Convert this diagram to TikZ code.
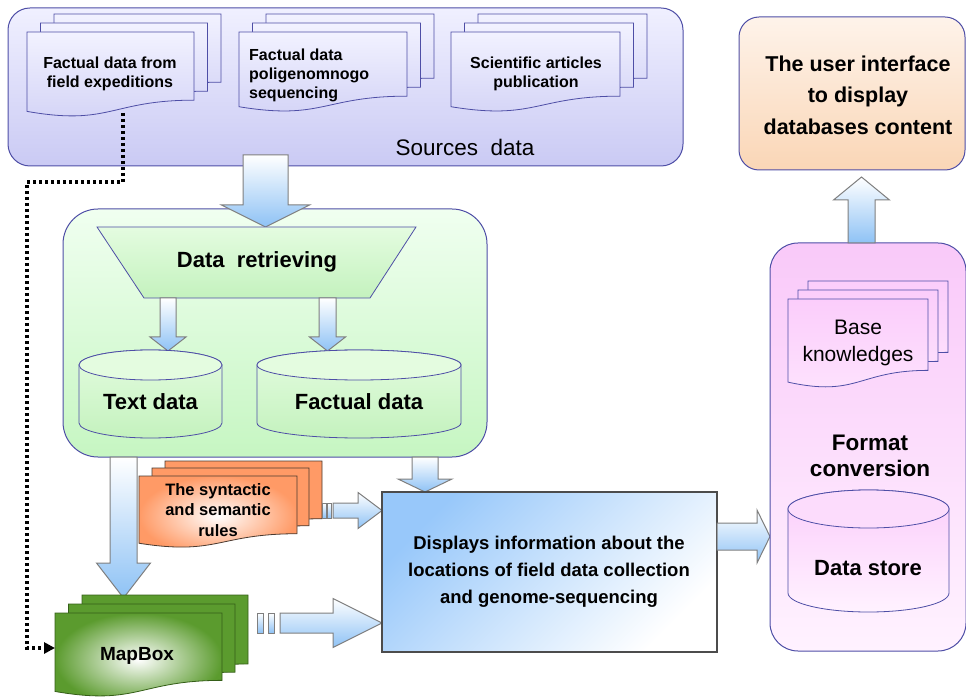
\documentclass[tikz,border=0pt]{standalone}
\usepackage{fontspec}
\setmainfont{Liberation Sans}
\usetikzlibrary{arrows.meta}
\definecolor{bord}{HTML}{4E4EA6}
\definecolor{srcTop}{HTML}{F0F0FF}
\definecolor{srcBot}{HTML}{CACAF4}
\definecolor{docTop}{HTML}{F2F2FF}
\definecolor{docBot}{HTML}{D2D2F6}
\definecolor{grTop}{HTML}{F0FFF0}
\definecolor{grBot}{HTML}{C6F6C2}
\definecolor{trTop}{HTML}{E4FCE0}
\definecolor{trBot}{HTML}{C4F2BE}
\definecolor{arrBlue}{HTML}{8EC2F5}
\definecolor{arrBord}{HTML}{7F7F7F}
\definecolor{orangeC}{HTML}{FF9A66}
\definecolor{orangeB}{HTML}{4A3A30}
\definecolor{greenC}{HTML}{5B9B2E}
\definecolor{greenB}{HTML}{355F18}
\definecolor{dispBlue}{HTML}{98C8FA}
\definecolor{uiTop}{HTML}{FEF3EA}
\definecolor{uiBot}{HTML}{FAD6B6}
\definecolor{pkTop}{HTML}{F9C9F9}
\definecolor{pkBot}{HTML}{FFF2FF}
\definecolor{pkDoc}{HTML}{FBCDFB}
\tikzset{
  blockarrow/.style={draw=arrBord, line width=1pt, top color=white, bottom color=arrBlue},
  srcbox/.style={draw=bord, line width=1pt, rounded corners=22pt, top color=srcTop, bottom color=srcBot},
  srcdoc/.style={draw=bord, line width=0.8pt, top color=docTop, bottom color=docBot},
  grbox/.style={draw=bord, line width=1pt, rounded corners=35pt, top color=grTop, bottom color=grBot},
  grshape/.style={draw=bord, line width=0.8pt, top color=trTop, bottom color=trBot},
  grtop/.style={draw=bord, line width=0.8pt, fill=trTop},
  orback/.style={draw=orangeB, line width=0.8pt, fill=orangeC},
  orfront/.style={draw=orangeB, line width=0.8pt, shading=radial, inner color=white, outer color=orangeC},
  gnback/.style={draw=greenB, line width=0.8pt, fill=greenC},
  gnfront/.style={draw=greenB, line width=0.8pt, shading=radial, inner color=white, outer color=greenC},
  dispbox/.style={draw=black!70, line width=1.2pt, top color=dispBlue, bottom color=white, shading angle=45},
  uibox/.style={draw=bord, line width=1pt, rounded corners=20pt, top color=uiTop, bottom color=uiBot},
  fmtbox/.style={draw=bord, line width=1pt, rounded corners=28pt, top color=pkTop, bottom color=pkBot},
  pkdoc/.style={draw=bord, line width=0.8pt, top color=pkDoc, bottom color=pkBot!60!pkDoc},
  pkcyl/.style={draw=bord, line width=0.8pt, top color=pkDoc, bottom color=pkBot},
  pktop/.style={draw=bord, line width=0.8pt, fill=pkDoc!70!white},
  dotline/.style={line width=3.5pt, dash pattern=on 3pt off 3pt, -{Triangle[length=11pt,width=11pt]}},
  lbl/.style={align=center, inner sep=0pt, text=black},
}
\newcommand\docpath[5]{%
  \pgfmathsetmacro\dA{#3+0.802*(#5-#3)}%
  \pgfmathsetmacro\dB{#3+1.107*(#5-#3)}%
  \pgfmathsetmacro\dC{#3+0.934*(#5-#3)}%
  \pgfmathsetmacro\dM{(#2+#4)/2}%
  \path[#1] (#2,#3) -- (#4,#3) -- (#4,\dA) .. controls (\dM,\dA) and (\dM,\dB) .. (#2,\dC) -- cycle;}
\newcommand\cylpath[7]{%
  \pgfmathsetmacro\cR{(#4-#2)/2}%
  \pgfmathsetmacro\cM{(#4+#2)/2}%
  \path[#1] (#2,#3) -- (#2,#5) arc[start angle=180,end angle=0,x radius=\cR,y radius=#6] -- (#4,#3) arc[start angle=0,end angle=-180,x radius=\cR,y radius=#6] -- cycle;
  \path[#7] (\cM,#3) ellipse[x radius=\cR, y radius=#6];}
\newcommand\barrowdown[6]{%
  \path[blockarrow] (#1-#4,#2) -- (#1+#4,#2) -- (#1+#4,#3-#6) -- (#1+#5,#3-#6) -- (#1,#3) -- (#1-#5,#3-#6) -- (#1-#4,#3-#6) -- cycle;}
\newcommand\barrowup[6]{%
  \path[blockarrow] (#1-#4,#2) -- (#1+#4,#2) -- (#1+#4,#3+#6) -- (#1+#5,#3+#6) -- (#1,#3) -- (#1-#5,#3+#6) -- (#1-#4,#3+#6) -- cycle;}
\newcommand\barrowright[6]{%
  \path[blockarrow] (#2,#1-#4) -- (#3-#6,#1-#4) -- (#3-#6,#1-#5) -- (#3,#1) -- (#3-#6,#1+#5) -- (#3-#6,#1+#4) -- (#2,#1+#4) -- cycle;}
\begin{document}
\begin{tikzpicture}[x=1pt,y=-1pt]
\useasboundingbox (0,0) rectangle (966,700);

% ---------- Sources data ----------
\node[srcbox, minimum width=675pt, minimum height=158pt, inner sep=0pt] (src) at (345.5,87) {};
\node[lbl, font=\fontsize{22.5}{26}\selectfont] (srclbl) at (465,147) {Sources\ \ data};

\docpath{srcdoc}{54}{14}{221}{99}
\docpath{srcdoc}{40.5}{23}{207.5}{108}
\docpath{srcdoc}{27}{32}{194}{117}
\docpath{srcdoc}{266}{14}{434}{94}
\docpath{srcdoc}{252.5}{23}{420.5}{103}
\docpath{srcdoc}{239}{32}{407}{112}
\docpath{srcdoc}{478}{14}{647}{94}
\docpath{srcdoc}{464.5}{23}{633.5}{103}
\docpath{srcdoc}{451}{32}{620}{112}
\node[lbl, font=\fontsize{16}{18.5}\selectfont\bfseries] (d1) at (110,74) {Factual data from\\field expeditions};
\node[lbl, anchor=west, align=left, font=\fontsize{16}{19}\selectfont\bfseries] (d2) at (249,75) {Factual data\\poligenomnogo\\sequencing};
\node[lbl, font=\fontsize{16}{18.5}\selectfont\bfseries] (d3) at (536,74) {Scientific articles\\publication};

% ---------- Green block ----------
\node[grbox, minimum width=424pt, minimum height=248pt, inner sep=0pt] (green) at (275,333) {};
\barrowdown{265.5}{155}{227}{22.5}{44}{22}
\path[grshape] (97,227) -- (416,227) -- (370,298) -- (144,298) -- cycle;
\node[lbl, font=\fontsize{22}{26}\selectfont\bfseries] (dr) at (257,262) {Data\ \ retrieving};
\barrowdown{168}{298}{351}{8}{18}{14}
\barrowdown{327.5}{298}{351}{8.5}{18}{14}
\cylpath{grshape}{79}{365}{222}{423}{15}{grtop}
\cylpath{grshape}{257}{365}{461}{423}{15}{grtop}
\node[lbl, font=\fontsize{22}{26}\selectfont\bfseries] (td) at (150.5,402) {Text data};
\node[lbl, font=\fontsize{22}{26}\selectfont\bfseries] (fd) at (359,402) {Factual data};

% ---------- arrows below green ----------
\barrowdown{123.5}{457}{598}{13.5}{27}{35}
\barrowdown{425}{457}{492}{13}{27}{13}

% ---------- rules ----------
\docpath{orback}{165}{461}{322}{533}
\docpath{orback}{152}{468}{309}{540}
\docpath{orfront}{139}{476}{297}{548}
\node[lbl, font=\fontsize{16.5}{20.5}\selectfont\bfseries] (rules) at (218,510) {The syntactic\\and semantic\\rules};
\path[blockarrow] (322,503) rectangle (326,518);
\path[blockarrow] (327,503) rectangle (331,518);
\barrowright{510.5}{333}{382}{7.5}{18}{24}

% ---------- MapBox ----------
\docpath{gnback}{82}{595}{248}{681}
\docpath{gnback}{68.5}{604}{235}{689}
\docpath{gnfront}{55}{613}{222}{697}
\node[lbl, font=\fontsize{19}{22}\selectfont\bfseries] (mapbox) at (137,656) {MapBox};
\path[blockarrow] (257,613) rectangle (263,633);
\path[blockarrow] (268,613) rectangle (274,633);
\barrowright{623}{280}{382}{10}{24.5}{49}

% ---------- dotted connector ----------
\coordinate (dotstart) at (123,113);
\coordinate (dotb1) at (123,182);
\coordinate (dotb2) at (27,182);
\coordinate (mapin) at (55,648);
\draw[dotline] (dotstart) -- (dotb1) -- (dotb2) |- (mapin);

% ---------- display ----------
\node[dispbox, minimum width=335pt, minimum height=160pt, inner sep=0pt] (disp) at (549.5,572) {};
\node[lbl, font=\fontsize{18.5}{27}\selectfont\bfseries] (disptxt) at (549,572) {Displays information\ about the\\locations\ of field\ data collection\\and genome-sequencing};
\barrowright{536.5}{717}{770}{13.5}{26.5}{13}

% ---------- UI ----------
\node[uibox, minimum width=226pt, minimum height=153pt, inner sep=0pt] (ui) at (852,93.5) {};
\node[lbl, font=\fontsize{21.5}{31.5}\selectfont\bfseries] (uitxt) at (858,95) {The user interface\\to display\\databases content};

% ---------- Format conversion ----------
\node[fmtbox, minimum width=196pt, minimum height=408pt, inner sep=0pt] (fmt) at (868,447) {};
\barrowup{861.5}{243}{177}{13.5}{28}{23}
\docpath{pkdoc}{808}{281}{948}{370}
\docpath{pkdoc}{798}{290}{938}{379}
\docpath{pkdoc}{788}{299}{928}{388}
\node[lbl, font=\fontsize{21}{27}\selectfont] (bk) at (858,343) {Base\\knowledges};
\node[lbl, font=\fontsize{22.5}{26}\selectfont\bfseries] (fc) at (870,456) {Format\\conversion};
\cylpath{pkcyl}{788}{509}{949}{593}{19}{pktop}
\node[lbl, font=\fontsize{22}{26}\selectfont\bfseries] (ds) at (868,568) {Data store};
\end{tikzpicture}
\end{document}
